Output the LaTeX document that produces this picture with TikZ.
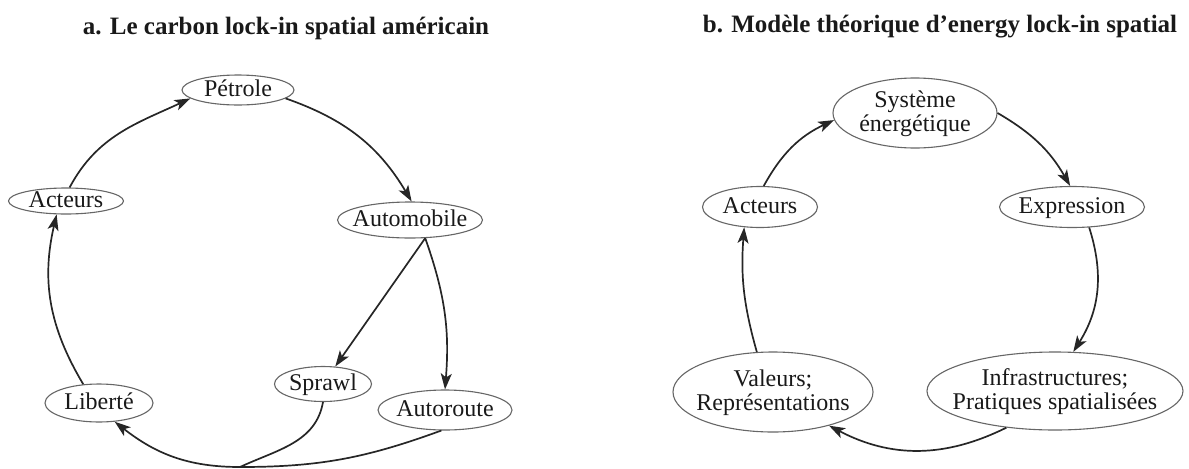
\documentclass[tikz,border=0pt]{standalone}
\usepackage{fontspec}
\setmainfont{Liberation Serif}
\usetikzlibrary{shapes.geometric,arrows.meta}

\newcommand{\etq}[1]{\makebox[0pt]{\raisebox{-4pt}[0pt][0pt]{\begin{tabular}{@{}c@{}}#1\end{tabular}}}}

\begin{document}
\begin{tikzpicture}[x=0.5pt, y=0.5pt,
  ell/.style={ellipse, draw=black!60, line width=0.55pt, inner sep=0pt, font=\fontsize{12}{12}\selectfont, text=black!90},
  fl/.style={-{Stealth[length=8pt,width=5.5pt,inset=2pt]}, line width=0.85pt, draw=black!85},
  trait/.style={line width=0.85pt, draw=black!85},
  titre/.style={font=\bfseries\fontsize{12.5}{15}\selectfont, text=black!90}]

\useasboundingbox (0,0) rectangle (1189,468);

\node[titre] (Ta) at (286,440) {a. Le carbon lock-in spatial américain};
\node[titre] (Tb) at (940,441) {b. Modèle théorique d’energy lock-in spatial};

\node[ell, minimum width=56pt, minimum height=15pt] (P) at (238,378) {\etq{Pétrole}};
\node[ell, minimum width=57.5pt, minimum height=13pt] (A) at (66,267) {\etq{Acteurs}};
\node[ell, minimum width=72.5pt, minimum height=18pt] (Au) at (410,248) {\etq{Automobile}};
\node[ell, minimum width=48.5pt, minimum height=17.5pt] (S) at (323,84) {\etq{Sprawl}};
\node[ell, minimum width=67pt, minimum height=20pt] (R) at (445,58) {\etq{Autoroute}};
\node[ell, minimum width=54pt, minimum height=19pt] (L) at (99,65) {\etq{Liberté}};
\coordinate (B) at (240,1);

\node[ell, minimum width=82pt, minimum height=35pt] (E) at (915,355) {\etq{Système\\énergétique}};
\node[ell, minimum width=57.5pt, minimum height=20.5pt] (A2) at (760,261) {\etq{Acteurs}};
\node[ell, minimum width=72.5pt, minimum height=20.5pt] (X) at (1072,261) {\etq{Expression}};
\node[ell, minimum width=100pt, minimum height=40pt] (V) at (773,76) {\etq{Valeurs;\\Représentations}};
\node[ell, minimum width=128pt, minimum height=39pt] (I) at (1055,77) {\etq{Infrastructures;\\Pratiques spatialisées}};

\draw[fl] (A.75) to[out=62, in=205] (P.190);
\draw[fl] (P.-10) to[bend left=20] (Au.85);
\draw[fl] (Au.310) -- (S.55);
\draw[fl] (Au.310) to[bend left=12] (R.north);
\draw[trait] (R.260) to[out=200, in=0] (B);
\draw[trait] (S.south) to[out=-100, in=25] (B);
\draw[fl] (B) to[out=180, in=-38] (L.310);
\draw[fl] (L.130) to[bend left=22] (A.235);

\draw[fl] (A2.80) to[bend left=18] (E.185);
\draw[fl] (E.0) to[bend left=15] (X.95);
\draw[fl] (X.-50) to[bend left=25] (I.65);
\draw[fl] (I.217) to[bend left=27] (V.-31);
\draw[fl] (V.112) to[bend left=10] (A2.232);

\end{tikzpicture}
\end{document}
